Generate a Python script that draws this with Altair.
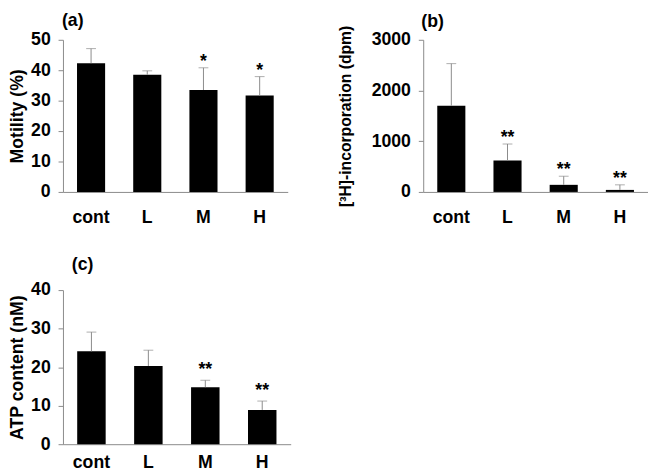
import altair as alt
import pandas as pd

cats = ["cont", "L", "M", "H"]

# (a) Motility
a_vals = [42.3, 38.5, 33.5, 31.7]
a_upper = [47.1, 39.8, 40.8, 37.9]
a_stars = ["", "", "*", "*"]

# (b) [3H]-incorporation
b_vals = [1700, 620, 140, 40]
b_upper = [2530, 945, 310, 140]
b_stars = ["", "**", "**", "**"]

# (c) ATP content
c_vals = [24.1, 20.3, 14.8, 8.9]
c_upper = [29.1, 24.4, 16.6, 11.2]
c_stars = ["", "", "**", "**"]

FONT = "Liberation Sans"
GRAY = "#8a8a8a"


def panel(vals, upper, stars, title, ytitle, ymax, ticks, w, h,
          x_lp, star_dy, title_dx, y_tp, ytitle_size, title_offset):
    df = pd.DataFrame({"group": cats, "value": vals, "upper": upper, "star": stars})
    x = alt.X("group:N", sort=cats,
              scale=alt.Scale(paddingInner=0.5, paddingOuter=0.25),
              axis=alt.Axis(title=None, labelAngle=0, labelFont=FONT, labelFontSize=18,
                            labelFontWeight="bold", labelColor="black", domainColor=GRAY,
                            ticks=False, labelPadding=x_lp))
    yscale = alt.Scale(domain=[0, ymax], nice=False, zero=True)
    yaxis = alt.Axis(values=ticks, format="d", labelOverlap=False, title=ytitle,
                     grid=False, tickSize=5, tickColor=GRAY, domainColor=GRAY,
                     labelPadding=8, titlePadding=y_tp, titleFont=FONT,
                     titleFontSize=ytitle_size, titleFontWeight="bold",
                     titleColor="black", labelFont=FONT, labelFontSize=18,
                     labelFontWeight="bold", labelColor="black")

    def Y(field):
        return alt.Y(field, type="quantitative", scale=yscale, axis=yaxis)

    base = alt.Chart(df)
    bars = base.mark_bar(color="black").encode(x=x, y=Y("value"))
    rule = base.mark_rule(color=GRAY, strokeWidth=1).encode(x=x, y=Y("value"), y2="upper")
    cap = base.mark_tick(color=GRAY, size=10, thickness=1).encode(x=x, y=Y("upper"))
    txt = base.mark_text(font=FONT, fontSize=18, fontWeight="bold", baseline="alphabetic",
                         dy=star_dy, color="black").encode(x=x, y=Y("upper"), text="star:N")
    return alt.layer(bars, rule, cap, txt).properties(
        width=w, height=h,
        title=alt.TitleParams(title, anchor="start", frame="group", font=FONT,
                              fontSize=18, fontWeight="bold", color="black",
                              dx=title_dx, offset=title_offset),
    )


pa = panel(a_vals, a_upper, a_stars, "(a)", "Motility (%)", 50, [0, 10, 20, 30, 40, 50],
           229, 155, 17, -1, -1, 4, 18, 1)
pb = panel(b_vals, b_upper, b_stars, "(b)", "[³H]-incorporation (dpm)", 3000,
           [0, 1000, 2000, 3000], 229, 155, 17, -1, -2, 18, 16, -6)
pc = panel(c_vals, c_upper, c_stars, "(c)", "ATP content (nM)", 40, [0, 10, 20, 30, 40],
           232, 157, 10, -5, 9, 4, 18, 7)

chart = alt.concat(pa, pb, pc, columns=2, spacing={"row": 100, "column": 135},
                   bounds="flush", padding=0).configure_view(stroke=None)

chart.save("out.html", embed_options={"renderer": "svg", "actions": False})
